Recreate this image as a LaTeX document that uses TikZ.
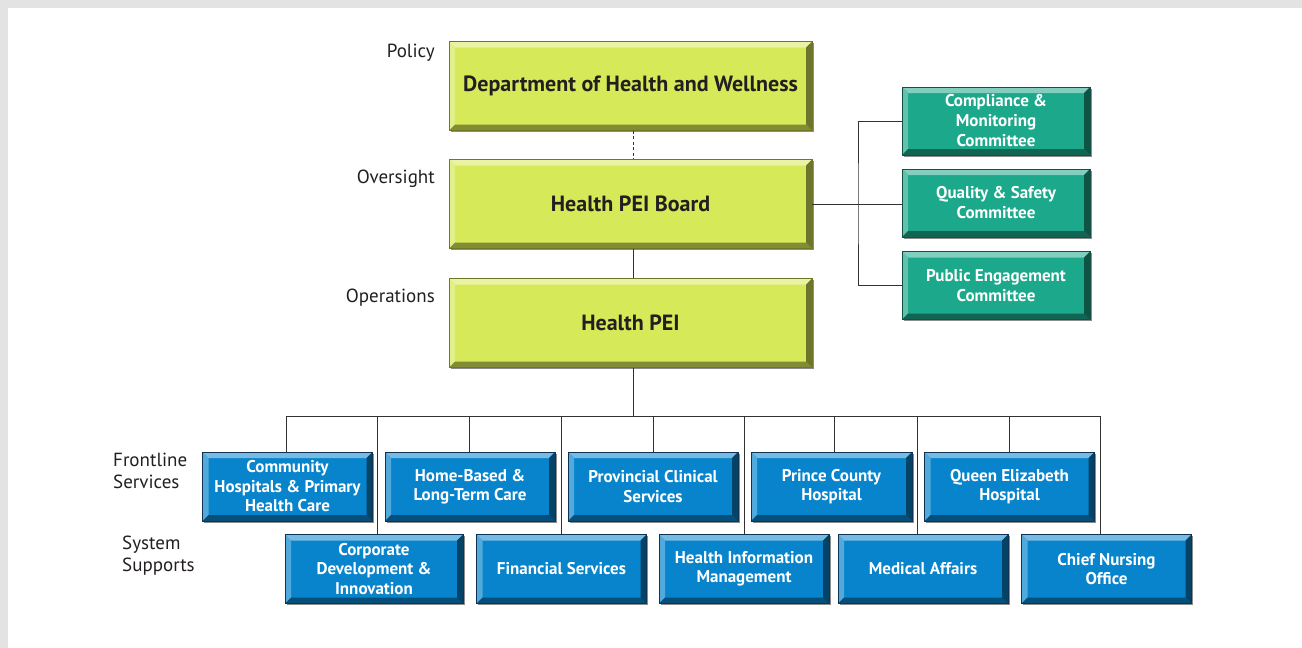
\documentclass[tikz,border=0pt]{standalone}
\usepackage{fontspec}
\setmainfont{PT Sans}
\usetikzlibrary{shadows}
\definecolor{limefill}{RGB}{214,233,88}
\definecolor{limeedge}{RGB}{112,120,40}
\definecolor{tealfill}{RGB}{28,168,138}
\definecolor{tealedge}{RGB}{20,80,70}
\definecolor{bluefill}{RGB}{8,132,204}
\definecolor{blueedge}{RGB}{15,50,85}
\definecolor{textdark}{RGB}{35,31,32}
\definecolor{linegrey}{RGB}{50,50,50}
\definecolor{bordergrey}{RGB}{227,227,227}
\tikzset{
  bevelbox/.style n args={2}{
    fill=#1, draw=#2, line width=0.8pt, inner sep=0pt, align=center,
    drop shadow={shadow xshift=1.5pt, shadow yshift=-1.5pt, opacity=0.45, fill=black},
    path picture={
      \fill[#1!55!white]
        (path picture bounding box.north west) -- (path picture bounding box.north east)
        -- ([xshift=-6pt,yshift=-6pt]path picture bounding box.north east)
        -- ([xshift=6pt,yshift=-6pt]path picture bounding box.north west) -- cycle;
      \fill[#1!70!white]
        (path picture bounding box.north west) -- ([xshift=6pt,yshift=-6pt]path picture bounding box.north west)
        -- ([xshift=6pt,yshift=6pt]path picture bounding box.south west)
        -- (path picture bounding box.south west) -- cycle;
      \fill[#1!60!black]
        (path picture bounding box.south west) -- (path picture bounding box.south east)
        -- ([xshift=-6pt,yshift=6pt]path picture bounding box.south east)
        -- ([xshift=6pt,yshift=6pt]path picture bounding box.south west) -- cycle;
      \fill[#1!50!black]
        (path picture bounding box.north east) -- ([xshift=-6pt,yshift=-6pt]path picture bounding box.north east)
        -- ([xshift=-6pt,yshift=6pt]path picture bounding box.south east)
        -- (path picture bounding box.south east) -- cycle;
    }},
  greenbox/.style={bevelbox={limefill}{limeedge}, minimum width=363pt, minimum height=89pt,
    text=textdark, font=\bfseries\fontsize{22}{25}\selectfont},
  tealbox/.style={bevelbox={tealfill}{tealedge}, minimum width=188pt, minimum height=68pt,
    text=white, font=\bfseries\fontsize{17}{20}\selectfont},
  bluebox/.style={bevelbox={bluefill}{blueedge}, minimum width=170pt, minimum height=69pt,
    text=white, font=\bfseries\fontsize{17}{19.5}\selectfont},
  lbl/.style={text=textdark, font=\fontsize{19}{22}\selectfont, inner sep=0pt, align=left},
  conn/.style={draw=linegrey, line width=0.9pt},
}
\begin{document}
\begin{tikzpicture}[x=1pt,y=-1pt]
\useasboundingbox (0,0) rectangle (1302,648);
\fill[bordergrey] (0,0) rectangle (1302,648);
\fill[white] (8,8) rectangle (1302,648);

% main column
\node[greenbox] (dept)  at (630.5,86)   {Department of Health and Wellness};
\node[greenbox] (board) at (630.5,204) {Health PEI Board};
\node[greenbox] (pei)   at (630.5,323) {Health PEI};

% level labels
\node[lbl, anchor=east] (lpolicy) at (435,53)  {Policy};
\node[lbl, anchor=east] (lover)   at (435,179) {Oversight};
\node[lbl, anchor=east] (lops)    at (435,298) {Operations};
\node[lbl, anchor=north west] (lfront) at (113,453) {Frontline\\Services};
\node[lbl, anchor=north west] (lsys)   at (122,536) {System\\Supports};

% committees
\node[tealbox] (compl)  at (996,121)   {Compliance \&\\Monitoring\\Committee};
\node[tealbox] (qual)   at (996,203)   {Quality \& Safety\\Committee};
\node[tealbox] (public) at (996,285.5) {Public Engagement\\Committee};

% frontline services
\node[bluebox] (comm)  at (287.5,486.5) {Community\\Hospitals \& Primary\\Health Care};
\node[bluebox] (home)  at (470,486.5)   {Home-Based \&\\Long-Term Care};
\node[bluebox] (prov)  at (653,486.5)   {Provincial Clinical\\Services};
\node[bluebox, minimum width=161pt] (prince) at (831.5,486.5) {Prince County\\Hospital};
\node[bluebox] (queen) at (1009.5,486.5) {Queen Elizabeth\\Hospital};

% system supports
\node[bluebox, minimum width=178pt] (corp) at (374,569) {Corporate\\Development \&\\Innovation};
\node[bluebox] (fin)   at (561.5,569) {Financial Services};
\node[bluebox] (him)   at (744,569)   {Health Information\\Management};
\node[bluebox] (med)   at (923,569)   {Medical Affairs};
\node[bluebox] (chief) at (1106.5,569) {Chief Nursing\\Office};

% connectors
\coordinate (bus) at (633,416);
\coordinate (spine) at (858,204);
\draw[conn, dashed, dash pattern=on 3pt off 2.5pt] (dept.south -| bus) -- (board.north -| bus);
\draw[conn] (board.south -| bus) -- (pei.north -| bus);
\draw[conn] (pei.south -| bus) -- (bus);
\draw[conn] (board.east |- spine) -- (qual.west |- spine);
\draw[conn] (compl.west) -| (spine) |- (public.west);

\draw[conn] (286,416) coordinate (busL) -- (1100,416) coordinate (busR);
\draw[conn] (comm.north -| busL) -- (busL);
\draw[conn] ([xshift=-1pt]home.north) -- ([xshift=-1pt]home.north |- busL);
\draw[conn] (prov.north) -- (prov.north |- busL);
\draw[conn] ([xshift=2.5pt]prince.north) -- ([xshift=2.5pt]prince.north |- busL);
\draw[conn] (queen.north) -- (queen.north |- busL);
\draw[conn] ([xshift=3pt]corp.north) -- ([xshift=3pt]corp.north |- busL);
\draw[conn] (fin.north) -- (fin.north |- busL);
\draw[conn] (him.north) -- (him.north |- busL);
\draw[conn] ([xshift=-6pt]med.north) -- ([xshift=-6pt]med.north |- busL);
\draw[conn] (chief.north -| busR) -- (busR);
\end{tikzpicture}
\end{document}
